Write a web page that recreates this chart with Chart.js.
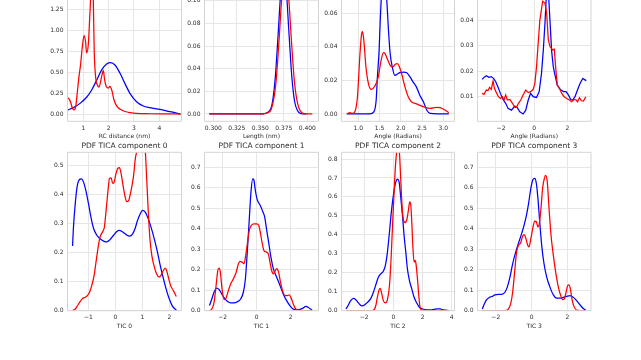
<!DOCTYPE html>
<html><head><meta charset="utf-8">
<script src="https://cdn.jsdelivr.net/npm/chart.js@4.4.1/dist/chart.umd.min.js"></script>
<style>
html,body{margin:0;padding:0;background:#fff;overflow:hidden;}
#fig{position:relative;width:641px;height:360px;background:#fff;}
#fig canvas{position:absolute;}
</style></head><body><div id="fig"></div>
<script>
// ---------- data ----------
// Panel: RC distance
const rc_x_red = [0.38,0.45,0.50,0.57,0.63,0.70,0.76,0.83,0.89,0.96,1.03,1.09,1.13,1.20,1.26,1.30,1.335,1.37,1.395,1.43,1.49,1.55,1.62,1.67,1.74,1.79,1.84,1.92,1.99,2.05,2.12,2.21,2.32,2.51,2.78,3.10,3.63,4.20,4.86];
const rc_y_red = [0.195,0.175,0.14,0.068,0.048,0.088,0.25,0.45,0.585,0.80,0.935,0.86,0.73,0.84,1.20,1.45,1.72,1.55,1.36,0.76,0.43,0.35,0.32,0.37,0.47,0.52,0.41,0.32,0.31,0.33,0.29,0.17,0.095,0.048,0.02,0.008,0.003,0.001,0.0];
const rc_x_blue = [0.38,0.61,0.87,1.13,1.33,1.53,1.72,1.92,2.08,2.25,2.45,2.64,2.84,3.10,3.37,3.63,4.03,4.42,4.82];
const rc_y_blue = [0.048,0.076,0.127,0.20,0.287,0.406,0.525,0.597,0.613,0.585,0.486,0.366,0.247,0.147,0.096,0.076,0.056,0.028,0.004];
// Panel: Length
const len_x_red = [0.2957,0.350,0.360,0.364,0.367,0.370,0.373,0.3765,0.380,0.383,0.386,0.389,0.393,0.398,0.4053];
const len_y_red = [0,0,0.002,0.012,0.031,0.066,0.104,0.120,0.104,0.066,0.031,0.012,0.002,0,0];
const len_x_blue = [0.2957,0.350,0.360,0.363,0.366,0.369,0.372,0.3747,0.3775,0.3805,0.3835,0.3865,0.3895,0.395,0.399];
const len_y_blue = [0,0,0.003,0.011,0.033,0.071,0.111,0.127,0.111,0.071,0.033,0.011,0.003,0,0];
// Panel: Angle
const ang_x_red = [0.73,0.80,0.86,0.92,0.98,1.04,1.08,1.10,1.13,1.18,1.24,1.31,1.39,1.47,1.53,1.59,1.63,1.68,1.75,1.81,1.87,1.92,1.96,2.02,2.10,2.18,2.25,2.37,2.53,2.69,2.84,2.92,3.04,3.13];
const ang_y_red = [0,0.0008,0.0003,0.0014,0.010,0.036,0.048,0.049,0.044,0.028,0.018,0.0147,0.0167,0.022,0.031,0.0366,0.036,0.033,0.029,0.028,0.0296,0.030,0.0286,0.024,0.016,0.010,0.0073,0.006,0.0044,0.0034,0.004,0.0038,0.0024,0.0008];
const ang_x_blue = [0.73,1.27,1.37,1.42,1.45,1.49,1.52,1.54,1.57,1.60,1.63,1.67,1.71,1.75,1.80,1.86,1.93,1.98,2.06,2.14,2.22,2.29,2.37,2.45,2.53,2.61,2.69,3.13];
const ang_y_blue = [0,0,0.0014,0.008,0.022,0.038,0.058,0.068,0.082,0.086,0.080,0.068,0.050,0.036,0.028,0.023,0.024,0.0246,0.025,0.0246,0.022,0.019,0.016,0.011,0.0074,0.0024,0.0004,0];
// Panel: Dihedral angle
const dih_x_red = [-3.14,-3.03,-2.89,-2.79,-2.69,-2.59,-2.48,-2.40,-2.28,-2.16,-2.04,-1.92,-1.82,-1.72,-1.62,-1.47,-1.31,-1.17,-1.07,-0.95,-0.81,-0.67,-0.51,-0.36,-0.22,-0.06,0.04,0.14,0.24,0.34,0.51,0.65,0.75,0.85,0.95,1.11,1.21,1.29,1.39,1.52,1.66,1.80,1.96,2.12,2.26,2.40,2.53,2.61,2.73,2.85,2.97,3.11];
const dih_y_red = [0.0113,0.0109,0.0126,0.0124,0.0137,0.0129,0.0162,0.0133,0.0116,0.0100,0.0093,0.0100,0.0087,0.0107,0.0087,0.0089,0.0074,0.0058,0.0058,0.0074,0.0087,0.0107,0.0126,0.0116,0.0120,0.0129,0.0153,0.0218,0.0310,0.0400,0.0475,0.0468,0.0429,0.0324,0.0297,0.0284,0.0287,0.0218,0.0146,0.0133,0.0113,0.0100,0.0093,0.0087,0.0080,0.0089,0.0087,0.0080,0.0096,0.0084,0.0083,0.0100];
const dih_x_blue = [-3.14,-3.03,-2.89,-2.73,-2.59,-2.44,-2.32,-2.18,-2.04,-1.88,-1.72,-1.58,-1.37,-1.17,-1.03,-0.87,-0.67,-0.51,-0.36,-0.22,-0.06,0.14,0.30,0.44,0.55,0.65,0.71,0.80,0.89,0.95,1.05,1.15,1.25,1.39,1.56,1.76,1.92,2.06,2.20,2.32,2.46,2.61,2.77,2.93,3.01,3.14];
const dih_y_blue = [0.0168,0.0176,0.0182,0.0176,0.0179,0.0171,0.0159,0.0137,0.0113,0.0089,0.0074,0.0054,0.0047,0.0063,0.0058,0.0041,0.0032,0.0047,0.0087,0.0113,0.0100,0.0097,0.0120,0.0192,0.0284,0.0390,0.0468,0.0600,0.0470,0.0400,0.0280,0.0218,0.0186,0.0146,0.0129,0.0120,0.0120,0.0107,0.0089,0.0087,0.0100,0.0126,0.0153,0.0172,0.0168,0.0163];
// Panel: TIC 0
const t0_x_red = [-1.59,-1.49,-1.41,-1.31,-1.21,-1.12,-1.04,-0.96,-0.88,-0.79,-0.72,-0.63,-0.57,-0.47,-0.41,-0.35,-0.28,-0.22,-0.16,-0.10,-0.05,0.01,0.09,0.15,0.21,0.30,0.36,0.42,0.48,0.57,0.67,0.74,0.79,0.87,0.95,1.03,1.11,1.16,1.22,1.28,1.35,1.43,1.53,1.62,1.69,1.78,1.85,1.90,1.98,2.05,2.15,2.26];
const t0_y_red = [0.001,0.006,0.017,0.031,0.043,0.046,0.052,0.063,0.086,0.121,0.167,0.224,0.253,0.272,0.287,0.339,0.408,0.454,0.456,0.437,0.44,0.466,0.489,0.491,0.471,0.420,0.391,0.374,0.376,0.408,0.46,0.523,0.546,0.60,0.62,0.60,0.546,0.454,0.339,0.247,0.19,0.155,0.126,0.115,0.121,0.138,0.146,0.138,0.109,0.086,0.069,0.049];
const t0_x_blue = [-1.59,-1.56,-1.49,-1.43,-1.35,-1.26,-1.19,-1.10,-1.00,-0.91,-0.81,-0.69,-0.57,-0.42,-0.32,-0.20,-0.07,0.05,0.15,0.27,0.40,0.52,0.64,0.73,0.81,0.91,1.01,1.10,1.19,1.28,1.38,1.47,1.56,1.65,1.75,1.88,2.00,2.12,2.27];
const t0_y_blue = [0.222,0.282,0.368,0.42,0.448,0.452,0.443,0.414,0.368,0.322,0.282,0.259,0.247,0.238,0.236,0.244,0.259,0.272,0.276,0.27,0.261,0.256,0.264,0.282,0.307,0.33,0.344,0.339,0.322,0.299,0.268,0.236,0.201,0.161,0.121,0.075,0.040,0.015,0.001];
// Panel: TIC 1
const t1_x_red = [-2.77,-2.63,-2.50,-2.38,-2.28,-2.20,-2.13,-2.03,-1.91,-1.80,-1.66,-1.52,-1.37,-1.21,-1.07,-0.98,-0.86,-0.74,-0.64,-0.53,-0.43,-0.31,-0.16,0.00,0.12,0.21,0.33,0.45,0.59,0.70,0.78,0.88,0.98,1.07,1.17,1.29,1.40,1.52,1.66,1.80,1.91,2.01,2.15,2.30,2.54,3.26];
const t1_y_red = [0,0.008,0.041,0.123,0.196,0.208,0.188,0.106,0.054,0.061,0.098,0.131,0.155,0.185,0.229,0.241,0.237,0.229,0.27,0.336,0.393,0.417,0.424,0.424,0.417,0.385,0.327,0.29,0.286,0.273,0.237,0.196,0.18,0.191,0.205,0.188,0.139,0.098,0.074,0.074,0.077,0.065,0.033,0.008,0.002,0];
const t1_x_blue = [-2.77,-2.63,-2.50,-2.34,-2.20,-2.05,-1.89,-1.72,-1.52,-1.33,-1.13,-0.94,-0.78,-0.66,-0.55,-0.43,-0.33,-0.23,-0.16,-0.08,0.04,0.20,0.35,0.47,0.59,0.70,0.82,0.98,1.17,1.37,1.56,1.76,1.95,2.15,2.44,2.69,2.89,3.04,3.16,3.26];
const t1_y_blue = [0.025,0.057,0.09,0.11,0.103,0.082,0.061,0.046,0.038,0.038,0.044,0.057,0.09,0.155,0.286,0.45,0.581,0.643,0.638,0.589,0.54,0.516,0.486,0.458,0.393,0.336,0.270,0.205,0.164,0.123,0.082,0.049,0.025,0.008,0.005,0.011,0.021,0.016,0.008,0.002];
// Panel: TIC 2
const t2_x_red = [-3.25,-1.60,-1.37,-1.21,-1.10,-0.98,-0.91,-0.82,-0.69,-0.55,-0.41,-0.27,-0.16,-0.05,0.07,0.16,0.23,0.32,0.41,0.50,0.59,0.69,0.80,0.91,1.03,1.12,1.19,1.26,1.33,1.42,1.49,1.55,1.65,1.74,1.83,1.97,3.82];
const t2_y_red = [0,0,0.002,0.026,0.071,0.111,0.118,0.097,0.053,0.041,0.058,0.133,0.274,0.468,0.663,0.786,0.84,0.88,0.84,0.698,0.557,0.477,0.465,0.477,0.53,0.574,0.56,0.468,0.345,0.256,0.265,0.247,0.168,0.08,0.018,0.002,0];
const t2_x_blue = [-3.25,-3.09,-2.93,-2.74,-2.58,-2.40,-2.17,-1.99,-1.78,-1.55,-1.37,-1.19,-1.03,-0.87,-0.69,-0.55,-0.41,-0.27,-0.14,0.00,0.14,0.27,0.39,0.50,0.62,0.73,0.85,0.96,1.10,1.26,1.42,1.60,1.78,2.01,2.29,2.63,2.97,3.20,3.43,3.82];
const t2_y_blue = [0.009,0.030,0.053,0.065,0.058,0.041,0.026,0.030,0.044,0.065,0.097,0.141,0.177,0.194,0.208,0.239,0.309,0.415,0.521,0.61,0.671,0.694,0.68,0.601,0.504,0.398,0.309,0.221,0.159,0.115,0.071,0.041,0.018,0.009,0.005,0.005,0.009,0.009,0.004,0];
// Panel: TIC 3
const t3_x_red = [-2.75,-1.49,-1.30,-1.17,-1.06,-0.95,-0.84,-0.73,-0.61,-0.50,-0.41,-0.32,-0.22,-0.15,-0.06,0.06,0.17,0.26,0.35,0.43,0.52,0.61,0.71,0.78,0.87,0.97,1.08,1.21,1.34,1.49,1.62,1.73,1.82,1.92,2.01,2.08,2.16,2.25,2.36,2.51,3.01];
const t3_y_red = [0,0,0.008,0.033,0.09,0.188,0.286,0.319,0.332,0.365,0.371,0.352,0.319,0.311,0.344,0.401,0.437,0.434,0.409,0.426,0.499,0.597,0.646,0.66,0.63,0.499,0.368,0.27,0.188,0.115,0.074,0.054,0.057,0.09,0.123,0.126,0.106,0.057,0.021,0.003,0];
const t3_x_blue = [-2.75,-2.64,-2.51,-2.36,-2.20,-2.05,-1.86,-1.67,-1.49,-1.36,-1.21,-1.06,-0.89,-0.71,-0.56,-0.41,-0.28,-0.17,-0.06,0.06,0.17,0.26,0.35,0.45,0.56,0.69,0.84,1.02,1.21,1.40,1.58,1.77,1.95,2.14,2.33,2.51,2.70,2.88,3.01];
const t3_y_blue = [0.008,0.033,0.054,0.065,0.070,0.077,0.080,0.080,0.09,0.115,0.164,0.229,0.286,0.336,0.376,0.421,0.47,0.524,0.589,0.638,0.646,0.622,0.548,0.434,0.319,0.229,0.164,0.115,0.077,0.061,0.061,0.065,0.070,0.074,0.065,0.049,0.028,0.011,0.003];

// ---------- tick values and labels ----------
const rc_xticks = [1,2,3,4],                  rc_xlabels = ['1','2','3','4'];
const rc_yticks = [0,0.25,0.5,0.75,1.0,1.25], rc_ylabels = ['0.00','0.25','0.50','0.75','1.00','1.25'];
const len_xticks = [0.3,0.325,0.35,0.375,0.4], len_xlabels = ['0.300','0.325','0.350','0.375','0.400'];
const len_yticks = [0,0.02,0.04,0.06,0.08,0.10], len_ylabels = ['0.00','0.02','0.04','0.06','0.08','0.10'];
const ang_xticks = [1.0,1.5,2.0,2.5,3.0],     ang_xlabels = ['1.0','1.5','2.0','2.5','3.0'];
const ang_yticks = [0,0.02,0.04,0.06],        ang_ylabels = ['0.00','0.02','0.04','0.06'];
const dih_xticks = [-2,0,2],                  dih_xlabels = ['\u22122','0','2'];
const dih_yticks = [0.01,0.02,0.03,0.04],     dih_ylabels = ['0.01','0.02','0.03','0.04'];
const t0_xticks = [-1,0,1,2],                 t0_xlabels = ['\u22121','0','1','2'];
const t0_yticks = [0,0.1,0.2,0.3,0.4,0.5],    t0_ylabels = ['0.0','0.1','0.2','0.3','0.4','0.5'];
const t1_xticks = [-2,0,2],                   t1_xlabels = ['\u22122','0','2'];
const t1_yticks = [0,0.1,0.2,0.3,0.4,0.5,0.6,0.7], t1_ylabels = ['0.0','0.1','0.2','0.3','0.4','0.5','0.6','0.7'];
const t2_xticks = [-2,0,2,4],                 t2_xlabels = ['\u22122','0','2','4'];
const t2_yticks = [0,0.1,0.2,0.3,0.4,0.5,0.6,0.7,0.8], t2_ylabels = ['0.0','0.1','0.2','0.3','0.4','0.5','0.6','0.7','0.8'];
const t3_xticks = [-2,0,2],                   t3_xlabels = ['\u22122','0','2'];
const t3_yticks = [0,0.1,0.2,0.3,0.4,0.5,0.6,0.7], t3_ylabels = ['0.0','0.1','0.2','0.3','0.4','0.5','0.6','0.7'];

// ---------- axis texts and limits ----------
const x_titles = ['RC distance (nm)','Length (nm)','Angle (Radians)','Angle (Radians)','TIC 0','TIC 1','TIC 2','TIC 3'];
const panel_titles = [null,null,null,null,'PDF TICA component 0','PDF TICA component 1','PDF TICA component 2','PDF TICA component 3'];
const x_limits = [[0.376,4.876],[0.2906,0.4119],[0.605,3.264],[-3.42,3.425],[-1.778,2.452],[-3.06,3.63],[-3.56,4.19],[-3.02,3.31]];
const y_limits = [[-0.0872,1.362],[-0.00646,0.1006],[-0.00435,0.0679],[0.00033,0.048],[0,0.5436],[0,0.773],[0,0.8354],[0,0.773]];

const SERIES = [
  [rc_x_red, rc_y_red, rc_x_blue, rc_y_blue],
  [len_x_red, len_y_red, len_x_blue, len_y_blue],
  [ang_x_red, ang_y_red, ang_x_blue, ang_y_blue],
  [dih_x_red, dih_y_red, dih_x_blue, dih_y_blue],
  [t0_x_red, t0_y_red, t0_x_blue, t0_y_blue],
  [t1_x_red, t1_y_red, t1_x_blue, t1_y_blue],
  [t2_x_red, t2_y_red, t2_x_blue, t2_y_blue],
  [t3_x_red, t3_y_red, t3_x_blue, t3_y_blue]
];
const TICKS = [
  [rc_xticks, rc_xlabels, rc_yticks, rc_ylabels],
  [len_xticks, len_xlabels, len_yticks, len_ylabels],
  [ang_xticks, ang_xlabels, ang_yticks, ang_ylabels],
  [dih_xticks, dih_xlabels, dih_yticks, dih_ylabels],
  [t0_xticks, t0_xlabels, t0_yticks, t0_ylabels],
  [t1_xticks, t1_xlabels, t1_yticks, t1_ylabels],
  [t2_xticks, t2_xlabels, t2_yticks, t2_ylabels],
  [t3_xticks, t3_xlabels, t3_yticks, t3_ylabels]
];

// ---------- layout (canvas boxes) ----------
const COL_LEFT = [27,164,301,437];
const COL_WIDTH = [158,158,157,158];
const COL_PADR = [3.5,3.5,3.5,4];
const Y_AXIS_W = 40.5, X_AXIS_H = 19;
const ROW_TOP = [0,141], ROW_H = [141,189], ROW_PADB = [0.7,0.3];

const FONT = 'DejaVu Sans';
const TXT = '#2b2b2b';
Chart.defaults.font.family = FONT;

const framePlugin = {
  id: 'frame',
  afterDatasetsDraw(chart, args, opts) {
    const a = chart.chartArea, ctx = chart.ctx;
    ctx.save();
    ctx.strokeStyle = opts.color; ctx.lineWidth = opts.width;
    ctx.beginPath();
    ctx.moveTo(a.left, a.top); ctx.lineTo(a.left, a.bottom);
    ctx.lineTo(a.right, a.bottom); ctx.lineTo(a.right, a.top);
    if (opts.top) ctx.closePath();
    ctx.stroke();
    ctx.restore();
  }
};

function pts(xs, ys) {
  const n = Math.min(xs.length, ys.length), out = [];
  for (let i = 0; i < n; i++) out.push({x: xs[i], y: ys[i]});
  return out;
}

const fig = document.getElementById('fig');
for (let k = 0; k < 8; k++) {
  const row = k < 4 ? 0 : 1, col = k % 4;
  const cv = document.createElement('canvas');
  cv.width = COL_WIDTH[col]; cv.height = ROW_H[row];
  cv.style.left = COL_LEFT[col] + 'px'; cv.style.top = ROW_TOP[row] + 'px';
  cv.style.width = COL_WIDTH[col] + 'px'; cv.style.height = ROW_H[row] + 'px';
  fig.appendChild(cv);
  const [xr, yr, xb, yb] = SERIES[k];
  const [xt, xl, yt, yl] = TICKS[k];
  const interp = (k === 3) ? 'default' : 'monotone';
  new Chart(cv, {
    type: 'line',
    data: {
      datasets: [
        {data: pts(xr, yr), borderColor: 'rgb(255,0,0)', borderWidth: 1.25, pointRadius: 0, fill: false, tension: 0, cubicInterpolationMode: interp},
        {data: pts(xb, yb), borderColor: 'rgb(0,0,255)', borderWidth: 1.25, pointRadius: 0, fill: false, tension: 0, cubicInterpolationMode: interp}
      ]
    },
    plugins: [framePlugin],
    options: {
      responsive: false, animation: false, devicePixelRatio: 1,
      layout: {padding: {left: 0, top: 0, right: COL_PADR[col], bottom: ROW_PADB[row]}},
      plugins: {
        legend: {display: false}, tooltip: {enabled: false},
        title: {
          display: !!panel_titles[k], text: panel_titles[k] || '', fullSize: false,
          font: {family: FONT, size: 7.5, weight: 'normal'}, color: TXT,
          padding: {top: 0.5, bottom: 1.8}
        },
        frame: {color: '#d4d4d4', width: 1, top: row === 1}
      },
      scales: {
        x: {
          type: 'linear', min: x_limits[k][0], max: x_limits[k][1],
          afterBuildTicks: s => { s.ticks = xt.map(v => ({value: v})); },
          afterFit: s => { s.height = X_AXIS_H; s.paddingLeft = 0; s.paddingRight = 0; },
          ticks: {autoSkip: false, maxRotation: 0, minRotation: 0, padding: 3.4,
                  font: {family: FONT, size: 6}, color: TXT, callback: (v, i) => xl[i]},
          grid: {color: '#e6e6e6', lineWidth: 1, drawTicks: false},
          border: {display: false},
          title: {display: true, text: x_titles[k], font: {family: FONT, size: 6}, color: TXT, padding: 0}
        },
        y: {
          type: 'linear', min: y_limits[k][0], max: y_limits[k][1],
          afterBuildTicks: s => { s.ticks = yt.map(v => ({value: v})); },
          afterFit: s => { s.width = Y_AXIS_W; s.paddingTop = 0; s.paddingBottom = 0; },
          ticks: {autoSkip: false, padding: 4, font: {family: FONT, size: 6}, color: TXT,
                  callback: (v, i) => yl[i]},
          grid: {color: '#e6e6e6', lineWidth: 1, drawTicks: false},
          border: {display: false}
        }
      }
    }
  });
}
</script>
</body></html>
